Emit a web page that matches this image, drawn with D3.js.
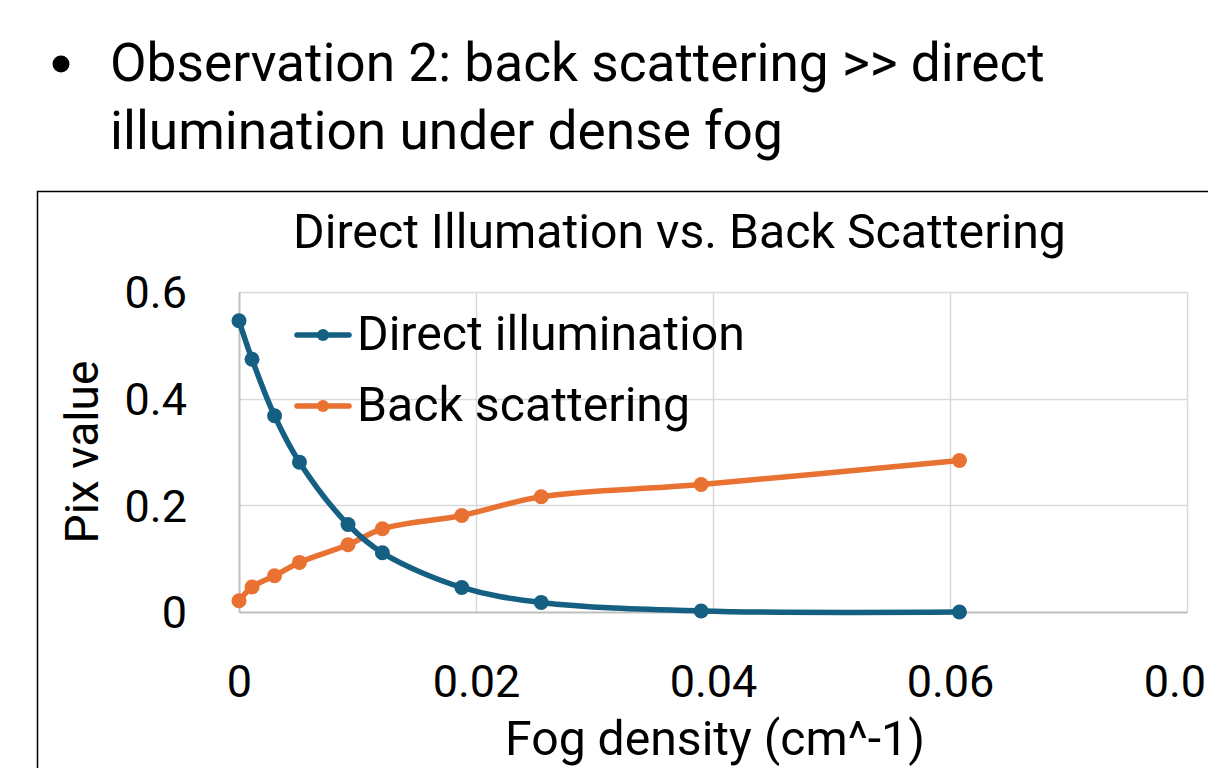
<!DOCTYPE html>
<html>
<head>
<meta charset="utf-8">
<script src="https://cdn.jsdelivr.net/npm/d3@7"></script>
<style>
  html, body { margin: 0; padding: 0; background: #ffffff; overflow: hidden; }
  svg { display: block; }
  text { font-family: "Roboto", "Liberation Sans", sans-serif; fill: #000; }
</style>
</head>
<body>
<svg id="chart" width="1208" height="768"></svg>
<script>
// ---- data ----
const bulletLines = ["Observation 2: back scattering >> direct", "illumination under dense fog"];
const chartTitle = "Direct Illumation vs. Back Scattering";
const xAxisTitle = "Fog density (cm^-1)";
const yAxisTitle = "Pix value";
const seriesNames = ["Direct illumination", "Back scattering"];
const xTicks = [0, 0.02, 0.04, 0.06, 0.08];
const yTicks = [0, 0.2, 0.4, 0.6];
const fogDensity = [0, 0.0011, 0.003, 0.0051, 0.0092, 0.0121, 0.0188, 0.0255, 0.039, 0.0608];
const directIllumination = [0.546, 0.474, 0.368, 0.281, 0.164, 0.111, 0.046, 0.018, 0.002, 0.0];
const backScattering = [0.021, 0.047, 0.068, 0.093, 0.126, 0.156, 0.181, 0.216, 0.239, 0.284];
const seriesColors = ["#156082", "#E97132"];

// ---- layout ----
const svg = d3.select("#chart");
const plot = { left: 239, right: 1187, top: 292, bottom: 612 };

const x = d3.scaleLinear().domain([0, 0.08]).range([plot.left, plot.right]);
const y = d3.scaleLinear().domain([0, 0.6]).range([plot.bottom, plot.top]);

// fit text to a target width by adjusting font-size
function fitWidth(sel, target) {
  const node = sel.node();
  const fs = parseFloat(sel.attr("font-size"));
  const w = node.getComputedTextLength();
  sel.attr("font-size", (fs * target / w).toFixed(2));
}

// ---- bullet text ----
svg.append("circle").attr("cx", 61).attr("cy", 64).attr("r", 8.5).attr("fill", "#000");
const b1 = svg.append("text").attr("x", 110).attr("y", 81).attr("font-size", 48).text(bulletLines[0]);
fitWidth(b1, 935);
const b2 = svg.append("text").attr("x", 110).attr("y", 149).attr("font-size", b1.attr("font-size")).text(bulletLines[1]);

// ---- chart frame ----
svg.append("rect")
  .attr("x", 37.5).attr("y", 191.5)
  .attr("width", 1300).attr("height", 700)
  .attr("fill", "#fff").attr("stroke", "#000").attr("stroke-width", 1.5);

// title
const t = svg.append("text").attr("x", (293 + 1066) / 2).attr("y", 248)
  .attr("text-anchor", "middle").attr("font-size", 44).text(chartTitle);
fitWidth(t, 773);

// ---- gridlines ----
const grid = svg.append("g");
grid.selectAll("line.h").data(yTicks.filter(d => d > 0)).join("line")
  .attr("x1", plot.left).attr("x2", plot.right)
  .attr("y1", d => Math.round(y(d)) + 0.5).attr("y2", d => Math.round(y(d)) + 0.5)
  .attr("stroke", "#d9d9d9").attr("stroke-width", 1.5);
grid.selectAll("line.v").data(xTicks.filter(d => d > 0)).join("line")
  .attr("y1", plot.top).attr("y2", plot.bottom)
  .attr("x1", d => Math.round(x(d)) + 0.5).attr("x2", d => Math.round(x(d)) + 0.5)
  .attr("stroke", "#d9d9d9").attr("stroke-width", 1.5);

// ---- axes ----
const xAxis = d3.axisBottom(x).tickValues(xTicks).tickSize(0).tickPadding(0)
  .tickFormat(d => d === 0 ? "0" : d3.format(".2f")(d));
const gx = svg.append("g").attr("transform", `translate(0,${plot.bottom})`).call(xAxis);
gx.select(".domain").attr("stroke", "#bfbfbf").attr("stroke-width", 2);
gx.selectAll(".tick text").attr("font-size", 45).attr("dy", null).attr("y", 85)
  .attr("font-family", "Roboto, sans-serif").attr("fill", "#000");

const yAxis = d3.axisLeft(y).tickValues(yTicks).tickSize(0).tickPadding(0)
  .tickFormat(d => d === 0 ? "0" : d3.format(".1f")(d));
const gy = svg.append("g").attr("transform", `translate(${plot.left},0)`).call(yAxis);
gy.select(".domain").attr("stroke", "#bfbfbf").attr("stroke-width", 2);
gy.selectAll(".tick text").attr("font-size", 45).attr("x", -52).attr("dy", "0.35em")
  .attr("font-family", "Roboto, sans-serif").attr("fill", "#000");

// axis titles
const xt = svg.append("text").attr("x", 715).attr("y", 755).attr("text-anchor", "middle")
  .attr("font-size", 44).text(xAxisTitle);
fitWidth(xt, 420);
const yt = svg.append("text").attr("transform", `translate(98,452) rotate(-90)`)
  .attr("text-anchor", "middle").attr("font-size", 44).text(yAxisTitle);
fitWidth(yt, 183);

// ---- series ----
const series = [
  { name: seriesNames[0], values: directIllumination, color: seriesColors[0] },
  { name: seriesNames[1], values: backScattering, color: seriesColors[1] }
];
const line = d3.line().x(d => x(d[0])).y(d => y(d[1])).curve(d3.curveCatmullRom.alpha(0.5));

series.slice().reverse().forEach(s => {
  const pts = fogDensity.map((fx, i) => [fx, s.values[i]]);
  const g = svg.append("g");
  g.append("path").datum(pts).attr("d", line)
    .attr("fill", "none").attr("stroke", s.color).attr("stroke-width", 5.5)
    .attr("stroke-linejoin", "round").attr("stroke-linecap", "round");
  g.selectAll("circle").data(pts).join("circle")
    .attr("cx", d => x(d[0])).attr("cy", d => y(d[1])).attr("r", 7.5)
    .attr("fill", s.color);
});

// ---- legend ----
const legend = svg.append("g");
const legendY = [335, 406];
series.forEach((s, i) => {
  const gy0 = legendY[i];
  legend.append("line").attr("x1", 297).attr("x2", 349).attr("y1", gy0).attr("y2", gy0)
    .attr("stroke", s.color).attr("stroke-width", 5.5).attr("stroke-linecap", "round");
  legend.append("circle").attr("cx", 323).attr("cy", gy0).attr("r", 6).attr("fill", s.color);
  const lt = legend.append("text").attr("x", 357).attr("y", gy0 + 15).attr("font-size", 44).text(s.name);
  if (i === 0) fitWidth(lt, 388);
  else lt.attr("font-size", legend.select("text").attr("font-size"));
});
</script>
</body>
</html>
